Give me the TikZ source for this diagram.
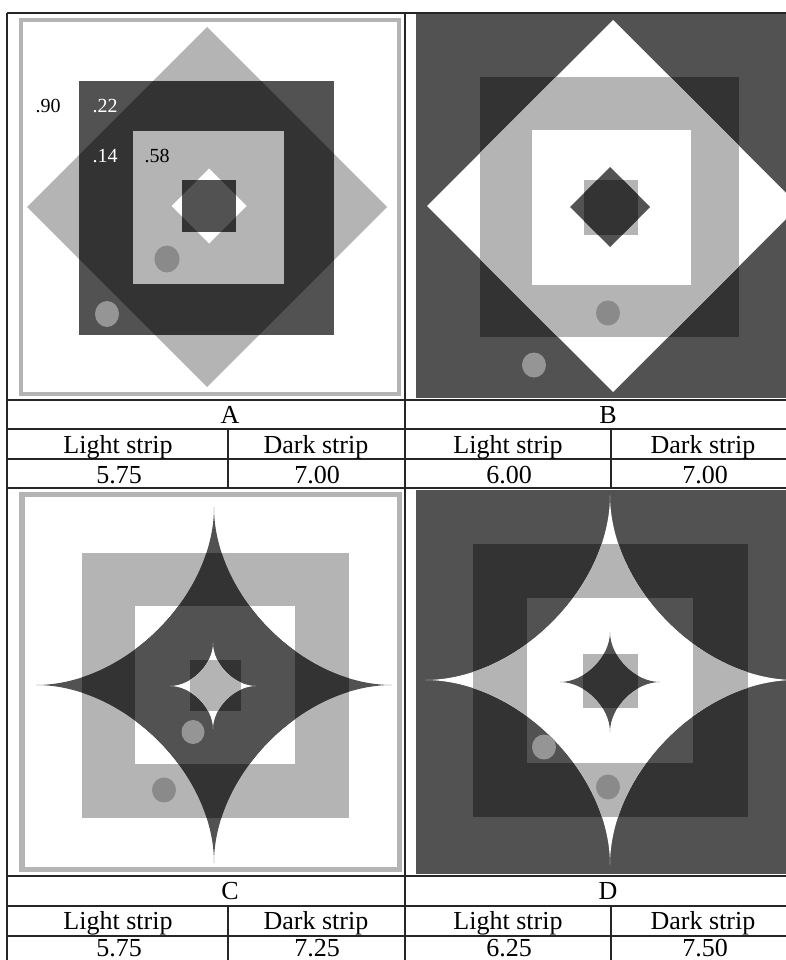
\documentclass[tikz,border=0pt]{standalone}
\usepackage{fontspec}
\setmainfont{Liberation Serif}
\definecolor{light}{HTML}{B4B4B4}
\definecolor{mid}{HTML}{525252}
\definecolor{deep}{HTML}{333333}
\definecolor{dotl}{HTML}{959595}
\definecolor{dotd}{HTML}{8A8A8A}
\newcommand{\adiam}[1]{(#1,0) -- (0,#1) -- (-#1,0) -- (0,-#1) -- cycle}
\newcommand{\astar}[1]{(#1,0) .. controls (0.5*#1,0) and (0,0.5*#1) .. (0,#1) .. controls (0,0.5*#1) and (-0.5*#1,0) .. (-#1,0) .. controls (-0.5*#1,0) and (0,-0.5*#1) .. (0,-#1) .. controls (0,-0.5*#1) and (0.5*#1,0) .. cycle}

\begin{document}
\begin{tikzpicture}[x=1pt, y=-1pt, every node/.style={inner sep=0pt, anchor=base}, cell/.style={font=\fontsize{26}{30}\selectfont}, tag/.style={font=\fontsize{20}{24}\selectfont}, rule/.style={line width=1.3pt, black!85}]
	\useasboundingbox (0,0) rectangle (785,960);
	% A
	\fill[light] (19,18) rectangle (401,396);
	\fill[white] (23,22) rectangle (397,392);
	\fill[light, shift={(207,207)}] \adiam{180};
	\fill[mid] (79,81) rectangle (334,335);
	\begin{scope}
		\clip[shift={(207,207)}] \adiam{180};
		\fill[deep] (79,81) rectangle (334,335);
	\end{scope}
	\fill[light] (133,131) rectangle (284,284);
	\fill[white, shift={(209,206)}] \adiam{37.5};
	\fill[deep] (182,180) rectangle (236,232);
	\begin{scope}
		\clip[shift={(209,206)}] \adiam{37.5};
		\fill[mid] (182,180) rectangle (236,232);
	\end{scope}
	\fill[dotl] (107,314) ellipse (12pt and 13pt);
	\fill[dotd] (167,259) ellipse (12.5pt and 13.5pt);
	\node[tag] (n90) at (48,113) {.90};
	\node[tag, white] (n22) at (105,113) {.22};
	\node[tag, white] (n14) at (105,163) {.14};
	\node[tag] (n58) at (157,163) {.58};
	% B
	\fill[mid] (416,14) rectangle (790,398);
	\fill[deep] (480,77) rectangle (739,337);
	\fill[white, shift={(613,206)}] \adiam{186};
	\begin{scope}
		\clip[shift={(613,206)}] \adiam{186};
		\fill[light] (480,77) rectangle (739,337);
	\end{scope}
	\fill[white] (532,130) rectangle (691,285);
	\fill[light] (584,180) rectangle (638,235);
	\fill[mid, shift={(610,207)}] \adiam{40};
	\begin{scope}
		\clip[shift={(610,207)}] \adiam{40};
		\fill[deep] (584,180) rectangle (638,235);
	\end{scope}
	\fill[dotd] (608,313) ellipse (12pt and 12.5pt);
	\fill[dotl] (534,365) ellipse (12pt and 12.5pt);
	% C
	\fill[light] (19,492) rectangle (402,872);
	\fill[white] (25,497) rectangle (397,867);
	\fill[light] (82,553) rectangle (349,818);
	\fill[white] (135,606) rectangle (295,764);
	\fill[mid, shift={(214,685)}] \astar{178};
	\begin{scope}
		\clip[shift={(214,685)}] \astar{178};
		\fill[deep] (82,553) rectangle (349,818);
		\fill[mid] (135,606) rectangle (295,764);
	\end{scope}
	\fill[deep] (190,660) rectangle (241,711);
	\fill[white, shift={(213,686)}] \astar{43};
	\begin{scope}
		\clip[shift={(213,686)}] \astar{43};
		\fill[light] (190,660) rectangle (241,711);
	\end{scope}
	\fill[dotl] (193,732) ellipse (11.5pt and 12pt);
	\fill[dotd] (164,790) ellipse (12pt and 12.5pt);
	% D
	\fill[mid] (416,490) rectangle (790,874);
	\fill[deep] (473,544) rectangle (748,817);
	\fill[mid] (527,598) rectangle (693,763);
	\fill[white, shift={(610,680)}] \astar{185};
	\begin{scope}
		\clip[shift={(610,680)}] \astar{185};
		\fill[light] (473,544) rectangle (748,817);
		\fill[white] (527,598) rectangle (693,763);
	\end{scope}
	\fill[light] (583,654) rectangle (638,708);
	\fill[mid, shift={(610,682)}] \astar{50};
	\begin{scope}
		\clip[shift={(610,682)}] \astar{50};
		\fill[deep] (583,654) rectangle (638,708);
	\end{scope}
	\fill[dotl] (544,747) ellipse (12pt and 12.5pt);
	\fill[dotd] (608,787) ellipse (12pt and 12.5pt);
	% table
	\foreach \y in {13,400,429,459,488,876,906,936}
		\draw[rule] (7,\y) -- (790,\y);
	\foreach \x in {7,405}
		\draw[rule] (\x,13) -- (\x,965);
	\foreach \x in {228,611}
		\draw[rule] (\x,429) -- (\x,488) (\x,906) -- (\x,965);
	\node[cell] (lA) at (230,423) {A};
	\node[cell] (lB) at (608,423) {B};
	\node[cell] (hA1) at (118,453) {Light strip};
	\node[cell] (hA2) at (316,453) {Dark strip};
	\node[cell] (hB1) at (508,453) {Light strip};
	\node[cell] (hB2) at (703,453) {Dark strip};
	\node[cell] (vA1) at (119,483) {5.75};
	\node[cell] (vA2) at (317,483) {7.00};
	\node[cell] (vB1) at (509,483) {6.00};
	\node[cell] (vB2) at (705,483) {7.00};
	\node[cell] (lC) at (230,899) {C};
	\node[cell] (lD) at (608,899) {D};
	\node[cell] (hC1) at (118,929) {Light strip};
	\node[cell] (hC2) at (316,929) {Dark strip};
	\node[cell] (hD1) at (508,929) {Light strip};
	\node[cell] (hD2) at (703,929) {Dark strip};
	\node[cell] (vC1) at (119,956) {5.75};
	\node[cell] (vC2) at (317,956) {7.25};
	\node[cell] (vD1) at (509,956) {6.25};
	\node[cell] (vD2) at (705,956) {7.50};
\end{tikzpicture}
\end{document}
